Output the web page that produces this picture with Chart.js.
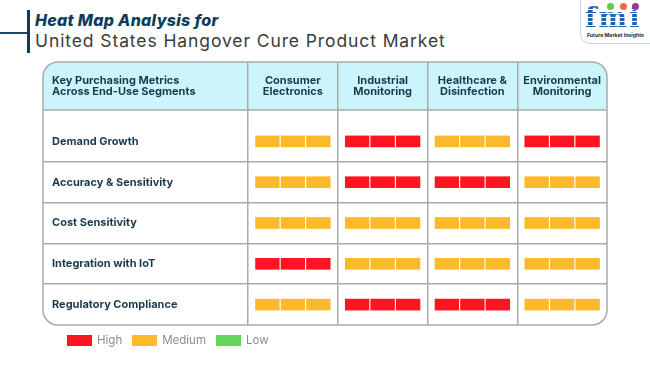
<!DOCTYPE html>
<html>
<head>
<meta charset="utf-8">
<script src="https://cdn.jsdelivr.net/npm/chart.js@4.4.1/dist/chart.umd.min.js"></script>
<style>
  html, body { margin: 0; padding: 0; background: #fff; }
  body { width: 650px; height: 365px; position: relative; overflow: hidden; font-family: Inter, "Open Sans", sans-serif; }
  #chartBox { position: absolute; left: 0; top: 0; width: 650px; height: 365px; }
  .title-bar { position: absolute; left: 27px; top: 10px; width: 3px; height: 43px; background: #0e3d57; }
  .title-line { position: absolute; left: 0; top: 32px; width: 28px; height: 1.5px; background: #1d4a63; }
  .title1 { position: absolute; left: 35px; top: 12px; font: italic 800 16px/16px Inter; letter-spacing: 0.3px; color: #0e3d5b; white-space: nowrap; }
  .title2 { position: absolute; left: 35px; top: 32px; font: 400 17.5px/17.5px Inter; letter-spacing: 0.9px; color: #3a3a3a; white-space: nowrap; }
  .corner { position: absolute; left: 52px; top: 75px; font: 700 11px/11px Inter; color: #1b3a4e; white-space: nowrap; }
  .legend { position: absolute; left: 67px; top: 335px; display: flex; align-items: center; height: 11px; }
  .legend .item { display: flex; align-items: center; margin-right: 10px; }
  .legend .box { width: 25px; height: 11px; margin-right: 5px; }
  .legend .lbl { font: 400 11.5px/11px Inter; color: #8c8c8c; }
  .logo { position: absolute; left: 580px; top: -12px; width: 90px; height: 54px; border: 1px solid #c9d5e2; border-radius: 10px; }
  .fmi { position: absolute; left: 585px; top: 6px; font: 700 27px/24px "DejaVu Serif"; letter-spacing: 2px;
         background: repeating-linear-gradient(to bottom, #1c62b0 0 3px, #ffffff 3px 4px);
         -webkit-background-clip: text; background-clip: text; color: transparent; }
  .dot { position: absolute; width: 7px; height: 7px; border-radius: 50%; top: 3px; }
  .fmi-sub { position: absolute; left: 587px; top: 32px; font: 700 5.2px/6px Inter; color: #2b2b2b; white-space: nowrap; }
</style>
</head>
<body>
<div class="title-line"></div>
<div class="title-bar"></div>
<div class="title1">Heat Map Analysis for</div>
<div class="title2">United States Hangover Cure Product Market</div>

<div class="logo"></div>
<div class="fmi">fmi</div>
<div class="dot" style="left:607px;background:#6cc24a"></div>
<div class="dot" style="left:620px;background:#f26b3a"></div>
<div class="dot" style="left:632px;background:#8e3c97"></div>
<div class="fmi-sub">Future Market Insights</div>

<div id="chartBox"><canvas id="heatMap"></canvas></div>
<div class="corner">Key Purchasing Metrics<br>Across End-Use Segments</div>
<div class="legend" id="legend"></div>

<script>
// segments (columns) and purchasing metrics (rows)
const segments = [
    ['Consumer', 'Electronics'],
    ['Industrial', 'Monitoring'],
    ['Healthcare &', 'Disinfection'],
    ['Environmental', 'Monitoring']
];
const metrics = ['Demand Growth', 'Accuracy & Sensitivity', 'Cost Sensitivity', 'Integration with IoT', 'Regulatory Compliance'];

const levels = ['High', 'Medium', 'Low'];
const levelColors = ['#ff1421', '#fdb92c', '#63d65a'];

// rating per segment, one array per metric row
const demandGrowth = ['Medium', 'High', 'Medium', 'High'];
const accuracySensitivity = ['Medium', 'High', 'High', 'Medium'];
const costSensitivity = ['Medium', 'Medium', 'Medium', 'Medium'];
const integrationIoT = ['High', 'Medium', 'Medium', 'Medium'];
const regulatoryCompliance = ['Medium', 'High', 'High', 'Medium'];

const ratings = [demandGrowth, accuracySensitivity, costSensitivity, integrationIoT, regulatoryCompliance];

const gridColor = '#aaaaaa';
const navy = '#1b3a4e';

// every cell is three small blocks side by side
const blockCount = 3;
const cellStart = 0.084;
const blockSpan = 0.264;
const blockGap = 0.02;

const cells = [];
ratings.forEach((row, r) => {
    row.forEach((level, c) => {
        for (let s = 0; s < blockCount; s++) {
            const from = c + cellStart + s * (blockSpan + blockGap);
            cells.push({ y: metrics[r], x: [from, from + blockSpan], level: level });
        }
    });
});

function roundRect(ctx, x, y, w, h, r) {
    ctx.beginPath();
    ctx.moveTo(x + r, y);
    ctx.lineTo(x + w - r, y);
    ctx.arcTo(x + w, y, x + w, y + r, r);
    ctx.lineTo(x + w, y + h - r);
    ctx.arcTo(x + w, y + h, x + w - r, y + h, r);
    ctx.lineTo(x + r, y + h);
    ctx.arcTo(x, y + h, x, y + h - r, r);
    ctx.lineTo(x, y + r);
    ctx.arcTo(x, y, x + r, y, r);
    ctx.closePath();
}

const tableFrame = {
    id: 'tableFrame',
    beforeDraw(chart) {
        const { ctx, chartArea } = chart;
        const left = 43, top = 62, right = chartArea.right, headBottom = 110, r = 15;
        ctx.save();
        ctx.fillStyle = '#ccf5fb';
        ctx.beginPath();
        ctx.moveTo(left, headBottom);
        ctx.lineTo(left, top + r);
        ctx.arcTo(left, top, left + r, top, r);
        ctx.lineTo(right - r, top);
        ctx.arcTo(right, top, right, top + r, r);
        ctx.lineTo(right, headBottom);
        ctx.closePath();
        ctx.fill();
        ctx.restore();
    },
    afterDraw(chart) {
        const { ctx, chartArea } = chart;
        const left = 43, top = 62, headBottom = 110;
        ctx.save();
        ctx.strokeStyle = gridColor;
        ctx.lineWidth = 1.5;
        ctx.beginPath();
        ctx.moveTo(left, headBottom);
        ctx.lineTo(chartArea.right, headBottom);
        ctx.stroke();
        roundRect(ctx, left, top, chartArea.right - left, chartArea.bottom - top, 15);
        ctx.stroke();
        ctx.restore();
    }
};

function hideEdge(ctx) {
    return (ctx.index === undefined || ctx.index === 0) ? 'rgba(0,0,0,0)' : gridColor;
}

const ctx = document.getElementById('heatMap').getContext('2d');

const heatChart = new Chart(ctx, {
    type: 'bar',
    data: {
        labels: metrics,
        datasets: [{
            data: cells,
            xAxisID: 'x',
            yAxisID: 'y',
            backgroundColor: (c) => levelColors[levels.indexOf(c.raw.level)],
            borderWidth: 0,
            borderSkipped: false,
            barThickness: 11
        }]
    },
    options: {
        indexAxis: 'y',
        responsive: true,
        maintainAspectRatio: false,
        animation: false,
        events: [],
        layout: {
            padding: { left: 52, top: 62, right: 43, bottom: 40 }
        },
        plugins: {
            legend: { display: false },
            tooltip: { enabled: false }
        },
        scales: {
            x: {
                type: 'linear',
                min: 0,
                max: segments.length,
                display: false
            },
            head: {
                type: 'category',
                axis: 'x',
                position: 'top',
                labels: segments,
                offset: true,
                afterFit: (scale) => { scale.height = 59; },
                border: { display: false },
                grid: {
                    offset: true,
                    drawTicks: true,
                    tickLength: 59,
                    lineWidth: 1.5,
                    color: (c) => c.index === undefined ? 'rgba(0,0,0,0)' : gridColor
                },
                ticks: {
                    padding: -35,
                    color: navy,
                    font: { family: 'Inter', size: 11, weight: 'bold', lineHeight: 1 },
                    maxRotation: 0,
                    autoSkip: false
                }
            },
            y: {
                type: 'category',
                position: 'left',
                offset: true,
                afterFit: (scale) => { scale.width = 196; },
                border: { display: false },
                grid: {
                    offset: true,
                    drawTicks: true,
                    tickLength: 205,
                    lineWidth: 1.5,
                    color: hideEdge
                },
                ticks: {
                    crossAlign: 'far',
                    color: navy,
                    font: { family: 'Inter', size: 11, weight: 'bold' },
                    autoSkip: false
                }
            }
        }
    },
    plugins: [tableFrame]
});

// legend below the table
const legendBox = document.getElementById('legend');
levels.forEach((name, i) => {
    const item = document.createElement('div');
    item.className = 'item';
    item.innerHTML = '<span class="box" style="background:' + levelColors[i] + '"></span><span class="lbl">' + name + '</span>';
    legendBox.appendChild(item);
});
</script>
</body>
</html>
